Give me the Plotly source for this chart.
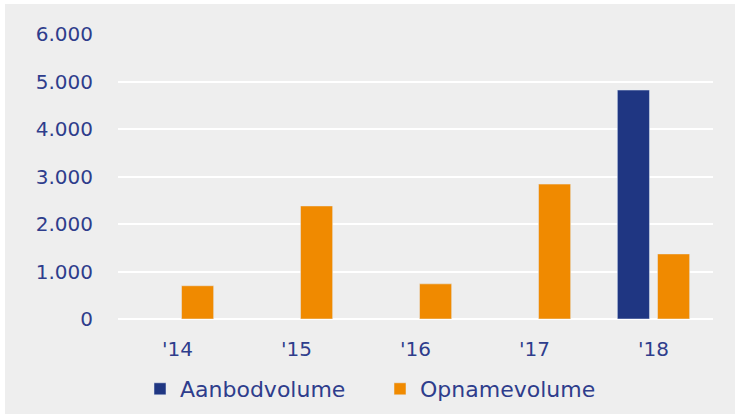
import plotly.graph_objects as go

years = ["'14", "'15", "'16", "'17", "'18"]
aanbod = [None, None, None, None, 4820]
opname = [700, 2380, 740, 2840, 1370]
y_ticks = [0, 1000, 2000, 3000, 4000, 5000, 6000]
y_labels = ["0", "1.000", "2.000", "3.000", "4.000", "5.000", "6.000"]

BLUE = "#1f3682"
ORANGE = "#f08a00"
TEXT = "#2e3d8c"
BG = "#eeeeee"
FONT = "Century Gothic, DejaVu Sans, sans-serif"

W, H = 735, 414
L, R, T, B = 118, 22, 34, 95

fig = go.Figure()
fig.add_trace(go.Bar(name="Aanbodvolume", x=years, y=aanbod, marker_color=BLUE))
fig.add_trace(go.Bar(name="Opnamevolume", x=years, y=opname, marker_color=ORANGE))

pw, ph = W - L - R, H - T - B
# grey panel with a thin white border on the top and left
fig.add_shape(type="rect", xref="paper", yref="paper", layer="below",
              x0=(5 - L) / pw, x1=(W - L) / pw,
              y0=-(H - T - ph) / ph, y1=(T - 4 + ph) / ph,
              fillcolor=BG, line_width=0)

fig.update_layout(
    width=W, height=H,
    margin=dict(l=L, r=R, t=T, b=B, autoexpand=False),
    paper_bgcolor="white",
    plot_bgcolor="rgba(0,0,0,0)",
    barmode="group",
    bargap=0.325,
    bargroupgap=0.2,
    font=dict(family=FONT, size=20, color=TEXT),
    showlegend=True,
    legend=dict(orientation="h", xref="container", yref="container",
                x=140 / W, xanchor="left", y=(H - 389) / H, yanchor="middle",
                entrywidth=195, entrywidthmode="pixels",
                font=dict(size=22, color=TEXT), bgcolor="rgba(0,0,0,0)"),
    xaxis=dict(showgrid=False, showline=False, ticks="", ticklabelstandoff=16,
               automargin=False, tickfont=dict(size=20, color=TEXT)),
    yaxis=dict(range=[0, 6000], tickvals=y_ticks, ticktext=y_labels,
               showgrid=True, gridcolor="white", gridwidth=2,
               zeroline=True, zerolinecolor="white", zerolinewidth=2,
               showline=False, ticks="", ticklabelstandoff=24,
               automargin=False, tickfont=dict(size=20, color=TEXT)),
)

fig.write_html("out.html")
